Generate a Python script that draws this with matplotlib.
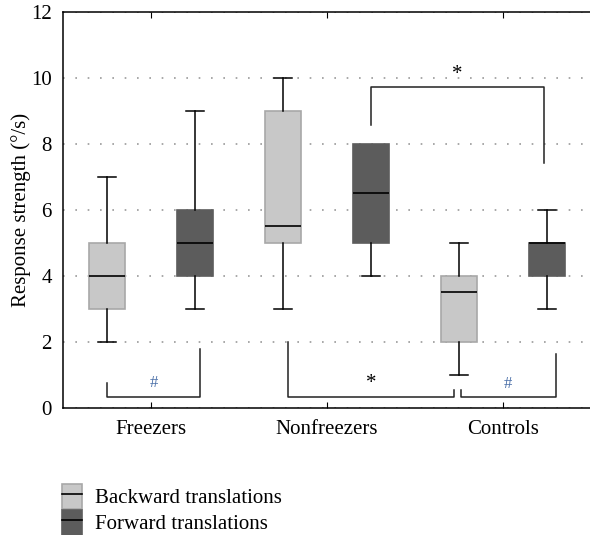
import matplotlib
matplotlib.use("Agg")
import matplotlib.pyplot as plt
from matplotlib.patches import Patch
from matplotlib.lines import Line2D
from matplotlib.legend_handler import HandlerTuple

plt.rcParams['font.family'] = ['Liberation Serif', 'DejaVu Serif']

groups = ['Freezers', 'Nonfreezers', 'Controls']
series = ['Backward translations', 'Forward translations']
# five number summaries: whislo, q1, med, q3, whishi
backward = [(2, 3, 4, 5, 7), (3, 5, 5.5, 9, 10), (1, 2, 3.5, 4, 5)]
forward = [(3, 4, 5, 6, 9), (4, 5, 6.5, 8, 8), (3, 4, 5, 5, 6)]
face = ['#c8c8c8', '#5c5c5c']
edge = ['#a8a8a8', '#5c5c5c']

# significance brackets: x left, x right, y of bar, left leg top, right leg top, mark
brackets = [
    (-0.25, 0.28, 0.33, 0.76, 1.79, '#'),
    (0.78, 1.72, 0.33, 2.0, 0.55, '*'),
    (1.76, 2.30, 0.33, 0.55, 1.64, '#'),
    (1.25, 2.23, 9.72, 8.58, 7.42, '*'),
]
mark_y = [0.76, 0.73, 0.73, 10.1]

fig = plt.figure(figsize=(5.9, 5.35), dpi=100)
ax = fig.add_axes([0.1068, 0.2374, 0.895, 0.7402])

offsets = [-0.25, 0.25]
for k, data in enumerate([backward, forward]):
    stats = []
    for (lo, q1, med, q3, hi) in data:
        stats.append(dict(whislo=lo, q1=q1, med=med, q3=q3, whishi=hi, fliers=[]))
    pos = [i + offsets[k] for i in range(len(groups))]
    parts = ax.bxp(stats, positions=pos, widths=0.205, capwidths=0.105, patch_artist=True,
                   showfliers=False,
                   boxprops=dict(facecolor=face[k], edgecolor=edge[k], linewidth=1.2),
                   medianprops=dict(color='black', linewidth=1.2),
                   whiskerprops=dict(color='black', linewidth=1.1),
                   capprops=dict(color='black', linewidth=1.1), zorder=3)
    # no cap where the whisker has zero length
    for j, (lo, q1, med, q3, hi) in enumerate(data):
        if hi == q3:
            parts['caps'][2 * j + 1].set_visible(False)
        if lo == q1:
            parts['caps'][2 * j].set_visible(False)

for (x0, x1, yb, yl, yr, m), my in zip(brackets, mark_y):
    ax.plot([x0, x0, x1, x1], [yl, yb, yb, yr], color='#222222', lw=1.1, zorder=4)
    col = '#4a6fa8' if m == '#' else 'black'
    ax.text((x0 + x1) / 2, my, m, ha='center', va='center', color=col,
            fontsize=15 if m == '*' else 12)

ax.set_xlim(-0.5, 2.5)
ax.set_ylim(0, 12)
ax.set_xticks(range(len(groups)))
ax.set_xticklabels(groups, fontsize=15)
ax.set_yticks(range(0, 13, 2))
ax.tick_params(axis='y', length=0, labelsize=15, pad=8)
ax.tick_params(axis='x', direction='in', length=4, top=True, pad=9)
ax.yaxis.grid(True, color='#9a9a9a', linestyle=(0, (1, 6.4)), linewidth=1.2)
ax.set_axisbelow(True)
ax.spines['right'].set_visible(False)
for s in ['left', 'bottom', 'top']:
    ax.spines[s].set_linewidth(1.1)
ax.set_ylabel('Response strength (°/s)', fontsize=15, labelpad=0)

handles = []
for k in range(2):
    handles.append((Patch(facecolor=face[k], edgecolor=edge[k], linewidth=1.2),
                    Line2D([], [], color='black', linewidth=1.2)))
fig.legend(handles, series, handler_map={tuple: HandlerTuple(ndivide=1)},
           loc='upper left', bbox_to_anchor=(0.105, 0.095), frameon=False,
           fontsize=15, handlelength=0.95, handleheight=1.45, handletextpad=0.65,
           labelspacing=0.05, borderaxespad=0, borderpad=0)

fig.savefig('out.png', dpi=100)
